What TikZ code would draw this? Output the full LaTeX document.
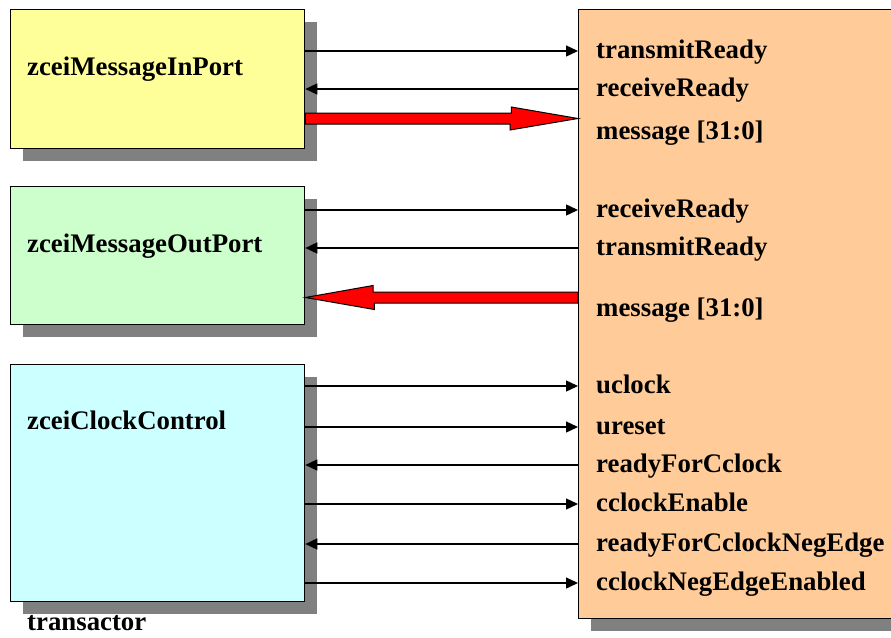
\documentclass[tikz,border=0pt]{standalone}
\usepackage{fontspec}
\setmainfont{Liberation Serif}
\usetikzlibrary{shadows,arrows.meta,calc}

\definecolor{inyellow}{HTML}{FFFF99}
\definecolor{outgreen}{HTML}{CCFFCC}
\definecolor{clkcyan}{HTML}{CCFFFF}
\definecolor{hdlorange}{HTML}{FFCC99}
\definecolor{shadegray}{HTML}{808080}

\tikzset{
  block/.style={rectangle, draw=black, line width=1.3pt, anchor=north west, inner sep=0pt,
    drop shadow={shadow xshift=12pt, shadow yshift=-12pt, fill=shadegray, opacity=1}},
  port/.style={anchor=west, inner sep=0pt, text height=18pt, text depth=4pt,
    font=\fontsize{26.8}{30}\selectfont\bfseries},
  sig/.style={line width=1.4pt, -{Triangle[length=12pt,width=11pt]}},
  fatarrow/.style={draw=black, line width=1pt, fill=red},
}

\begin{document}
\begin{tikzpicture}[x=1pt, y=-1pt]
\useasboundingbox (0,0) rectangle (891,637);

% blocks
\node[block, fill=hdlorange, minimum width=330pt, minimum height=609pt] (hdl) at (578,9) {};
\node[block, fill=inyellow, minimum width=294pt, minimum height=139pt] (inport) at (10,9) {};
\node[block, fill=outgreen, minimum width=294pt, minimum height=138pt] (outport) at (10,186) {};
\node[block, fill=clkcyan, minimum width=294pt, minimum height=237pt] (clkctl) at (10,364) {};

\node[port] (inport-txt) at (27,68) {zceiMessageInPort};
\node[port] (outport-txt) at (27,245) {zceiMessageOutPort};
\node[port] (clkctl-txt) at (27,422) {zceiClockControl};
\node[port] (trans-txt) at (27,623) {transactor};

% ports of the hdl side
\node[port] (in-tx) at (596,51) {transmitReady};
\node[port] (in-rx) at (596,89) {receiveReady};
\node[port] (in-msg) at (596,132) {message [31:0]};
\node[port] (out-rx) at (596,210) {receiveReady};
\node[port] (out-tx) at (596,248) {transmitReady};
\node[port] (out-msg) at (596,309) {message [31:0]};
\node[port] (uclk) at (596,386) {uclock};
\node[port] (urst) at (596,427) {ureset};
\node[port] (rdyclk) at (596,465) {readyForCclock};
\node[port] (clken) at (596,504) {cclockEnable};
\node[port] (rdyneg) at (596,544) {readyForCclockNegEdge};
\node[port] (negen) at (596,583) {cclockNegEdgeEnabled};

\coordinate (in-bus) at (0,118.5);
\coordinate (out-bus) at (0,297.5);

% signals
\draw[sig] (inport.east |- in-tx) -- (hdl.west |- in-tx);
\draw[sig] (hdl.west |- in-rx) -- (inport.east |- in-rx);
\draw[sig] (outport.east |- out-rx) -- (hdl.west |- out-rx);
\draw[sig] (hdl.west |- out-tx) -- (outport.east |- out-tx);
\draw[sig] (clkctl.east |- uclk) -- (hdl.west |- uclk);
\draw[sig] (clkctl.east |- urst) -- (hdl.west |- urst);
\draw[sig] (hdl.west |- rdyclk) -- (clkctl.east |- rdyclk);
\draw[sig] (clkctl.east |- clken) -- (hdl.west |- clken);
\draw[sig] (hdl.west |- rdyneg) -- (clkctl.east |- rdyneg);
\draw[sig] (clkctl.east |- negen) -- (hdl.west |- negen);

% message buses
\draw[fatarrow] ($(inport.east |- in-bus)+(0,-5.5)$) -- ++(206,0) -- ++(0,-6)
  -- (hdl.west |- in-bus) -- ++(-68,11.5) -- ++(0,-6)
  -- ($(inport.east |- in-bus)+(0,5.5)$) -- cycle;
\draw[fatarrow] ($(hdl.west |- out-bus)+(0,-5.5)$) -- ++(-205,0) -- ++(0,-6.5)
  -- (outport.east |- out-bus) -- ++(69,12) -- ++(0,-6.5)
  -- ($(hdl.west |- out-bus)+(0,5.5)$) -- cycle;
\end{tikzpicture}
\end{document}
